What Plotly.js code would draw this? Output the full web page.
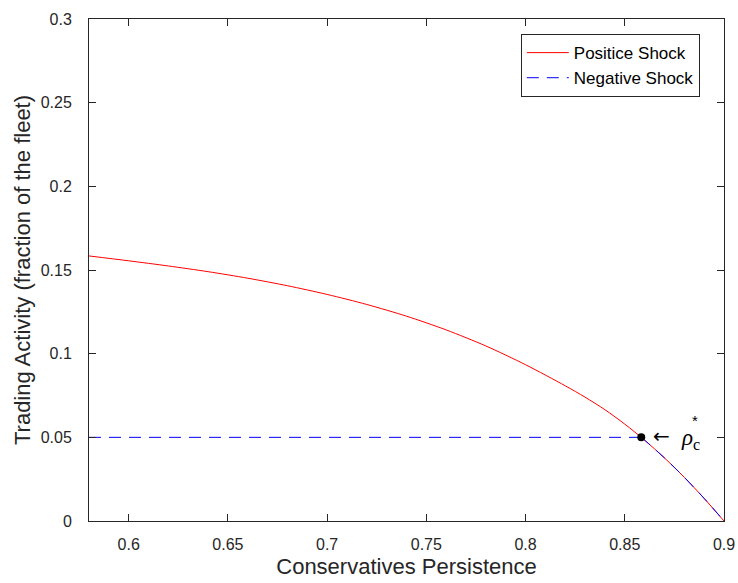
<!DOCTYPE html>
<html>
<head>
<meta charset="utf-8">
<script src="https://cdn.plot.ly/plotly-3.0.1.min.js"></script>
<style>html,body{margin:0;padding:0;background:#fff;}#chart{width:738px;height:583px;}</style>
</head>
<body>
<div id="chart"></div>
<script>
// Conservatives persistence (x) and trading activity under a positive shock (y)
var persistence = [0.58, 0.60, 0.62, 0.64, 0.66, 0.68, 0.70, 0.72, 0.74, 0.76, 0.78, 0.80, 0.82, 0.83, 0.84, 0.85, 0.86, 0.87, 0.88, 0.89, 0.90];
var positiveShock = [0.1584, 0.1555, 0.1524, 0.1490, 0.1451, 0.1406, 0.1354, 0.1294, 0.1224, 0.1142, 0.1046, 0.0934, 0.0808, 0.0740, 0.0665, 0.0579, 0.0483, 0.0377, 0.0261, 0.0135, 0.0];
// Negative shock: flat trading level until the critical persistence, then the curve
var negativeLevel = 0.05;
var rhoCritical = 0.8583;
var seriesNames = ["Positice Shock", "Negative Shock"];
var xTicks = [0.6, 0.65, 0.7, 0.75, 0.8, 0.85, 0.9];
var yTicks = [0, 0.05, 0.1, 0.15, 0.2, 0.25, 0.3];

var negFlatX = [persistence[0], rhoCritical];
var negFlatY = [negativeLevel, negativeLevel];
var negCurveX = [rhoCritical];
var negCurveY = [negativeLevel];
for (var i = 0; i < persistence.length; i++) {
  if (persistence[i] > rhoCritical) { negCurveX.push(persistence[i]); negCurveY.push(positiveShock[i]); }
}

var font = "Liberation Sans, Arial, Helvetica, sans-serif";
var axisColor = "#262626";
var dashStyle = "12px,8px";

var traces = [
  {x: persistence, y: positiveShock, type: "scatter", mode: "lines", name: seriesNames[0],
   line: {color: "#ff0000", width: 1, shape: "spline", smoothing: 0.8}},
  {x: negFlatX, y: negFlatY, type: "scatter", mode: "lines", name: seriesNames[1], legendgroup: "neg",
   line: {color: "#0000ff", width: 1, dash: dashStyle}},
  {x: negCurveX, y: negCurveY, type: "scatter", mode: "lines", name: seriesNames[1], legendgroup: "neg", showlegend: false,
   line: {color: "#0000ff", width: 1, dash: dashStyle, shape: "spline", smoothing: 0.8}},
  {x: [rhoCritical], y: [negativeLevel], type: "scatter", mode: "markers", showlegend: false,
   marker: {color: "#000000", size: 8}}
];

var axisCommon = {
  showgrid: false, zeroline: false, showline: true, linecolor: axisColor, linewidth: 1,
  mirror: "ticks", ticks: "inside", ticklen: 7, tickwidth: 1, tickcolor: axisColor,
  tickfont: {family: font, size: 16, color: axisColor}
};

var layout = {
  width: 738, height: 583,
  margin: {l: 88.5, r: 14, t: 19, b: 62},
  paper_bgcolor: "#ffffff", plot_bgcolor: "#ffffff",
  showlegend: true,
  xaxis: Object.assign({}, axisCommon, {
    range: [0.58, 0.9], tickvals: xTicks, ticktext: xTicks.map(String), ticklabelstandoff: 9,
    title: {text: "Conservatives Persistence", font: {family: font, size: 22, color: axisColor}, standoff: 6}
  }),
  yaxis: Object.assign({}, axisCommon, {
    range: [0, 0.3], tickvals: yTicks, ticktext: yTicks.map(String), ticklabelstandoff: 13,
    title: {text: "Trading Activity (fraction of the fleet)", font: {family: font, size: 22, color: axisColor}, standoff: 3}
  }),
  legend: {
    x: 0.68, y: 0.97, xanchor: "left", yanchor: "top",
    bgcolor: "#ffffff", bordercolor: axisColor, borderwidth: 1,
    font: {family: font, size: 17, color: "#000000"},
    itemwidth: 42, tracegroupgap: 0
  },
  annotations: [
    {x: rhoCritical, y: negativeLevel, xref: "x", yref: "y", showarrow: false,
     xanchor: "left", yanchor: "middle", xshift: 10, yshift: 1,
     text: "\u2190", font: {family: "DejaVu Sans, sans-serif", size: 20, color: "#000000"}},
    {x: rhoCritical, y: negativeLevel, xref: "x", yref: "y", showarrow: false,
     xanchor: "left", yanchor: "middle", xshift: 38, yshift: -2,
     text: "<i>\u03c1</i><sub>c</sub>", font: {family: "Liberation Serif, serif", size: 23, color: "#000000"}},
    {x: rhoCritical, y: negativeLevel, xref: "x", yref: "y", showarrow: false,
     xanchor: "left", yanchor: "middle", xshift: 49, yshift: 17,
     text: "*", font: {family: font, size: 15, color: "#000000"}}
  ]
};

Plotly.newPlot("chart", traces, layout, {displayModeBar: false, staticPlot: true});
</script>
</body>
</html>
